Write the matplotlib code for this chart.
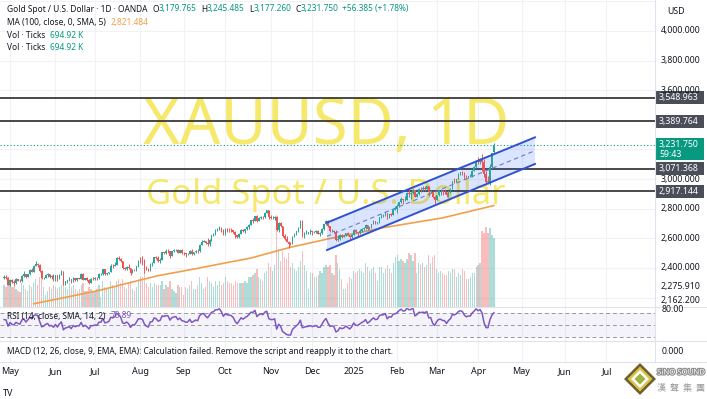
import numpy as np
import pandas as pd
import matplotlib
matplotlib.use("Agg")
import matplotlib.pyplot as plt
from matplotlib.patches import Polygon, Rectangle
from matplotlib.transforms import blended_transform_factory
import matplotlib.patheffects as pe

plt.rcParams['font.family'] = ['Noto Sans', 'DejaVu Sans']

# ---------------- data ----------------
rsi_warmup_closes = [2083, 2115, 2128, 2148, 2160, 2179, 2182, 2158, 2175, 2162, 2156, 2160, 2157,
                     2187, 2181, 2165, 2172, 2179, 2194, 2230, 2251, 2280, 2300, 2290, 2329, 2339,
                     2352, 2333, 2372, 2344, 2383, 2383, 2361, 2379, 2391, 2327, 2322, 2316, 2332]

closes = (
    [2337, 2335, 2286] +
    [2320, 2304, 2301, 2323, 2314, 2309, 2346, 2360, 2336, 2358, 2386, 2376, 2415, 2425, 2421,
     2379, 2329, 2334, 2351, 2361, 2338, 2343, 2327] +
    [2350, 2327, 2355, 2375, 2293, 2311, 2316, 2325, 2303, 2333, 2319, 2329, 2328, 2360, 2322,
     2334, 2319, 2298, 2327, 2326] +
    [2332, 2330, 2356, 2356, 2391, 2359, 2364, 2371, 2415, 2411, 2422, 2469, 2459, 2445, 2400,
     2396, 2409, 2397, 2364, 2387, 2384, 2410, 2447] +
    [2446, 2443, 2409, 2390, 2382, 2427, 2431, 2472, 2465, 2447, 2456, 2507, 2504, 2514, 2512,
     2484, 2512, 2518, 2524, 2504, 2520, 2503] +
    [2500, 2493, 2495, 2516, 2497, 2506, 2516, 2512, 2558, 2577, 2582, 2569, 2559, 2587, 2621,
     2628, 2657, 2657, 2672, 2658, 2634] +
    [2663, 2657, 2656, 2653, 2644, 2622, 2608, 2630, 2657, 2649, 2663, 2674, 2693, 2721, 2720,
     2748, 2714, 2736, 2747, 2742, 2774, 2788, 2743] +
    [2736, 2736, 2743, 2659, 2706, 2685, 2619, 2598, 2573, 2565, 2563, 2612, 2631, 2650, 2670,
     2715, 2625, 2633, 2639, 2641, 2650] +
    [2640, 2643, 2650, 2632, 2633, 2660, 2694, 2718, 2680, 2648, 2652, 2646, 2586, 2594, 2622,
     2612, 2617, 2634, 2621, 2606, 2624] +
    [2658, 2640, 2636, 2648, 2661, 2670, 2689, 2663, 2677, 2697, 2715, 2703, 2708, 2744, 2755,
     2755, 2771, 2740, 2763, 2760, 2794, 2798] +
    [2815, 2843, 2866, 2856, 2861, 2908, 2898, 2904, 2928, 2882, 2898, 2935, 2933, 2939, 2936,
     2952, 2915, 2916, 2876, 2858] +
    [2893, 2918, 2920, 2911, 2910, 2890, 2917, 2934, 2988, 2984, 3001, 3034, 3048, 3044, 3023,
     3011, 3020, 3020, 3057, 3084, 3124] +
    [3113, 3134, 3114, 3037, 2983, 2982, 3083, 3175.365, 3231.75]
)
highs = (
    [2352, 2353, 2336] +
    [2326, 2326, 2319, 2331, 2326, 2323, 2350, 2378, 2361, 2361, 2392, 2400, 2422, 2450, 2431,
     2428, 2385, 2341, 2358, 2365, 2362, 2351, 2360] +
    [2354, 2353, 2359, 2387, 2378, 2313, 2318, 2342, 2326, 2336, 2335, 2335, 2335, 2365, 2368,
     2335, 2336, 2325, 2330, 2340] +
    [2336, 2336, 2365, 2364, 2393, 2393, 2366, 2374, 2424, 2425, 2440, 2471, 2483, 2469, 2447,
     2409, 2412, 2430, 2403, 2390, 2394, 2412, 2451] +
    [2477, 2478, 2458, 2410, 2402, 2432, 2438, 2474, 2478, 2479, 2464, 2509, 2509, 2531, 2525,
     2515, 2514, 2528, 2527, 2526, 2523, 2525] +
    [2507, 2502, 2503, 2523, 2529, 2507, 2518, 2528, 2560, 2586, 2589, 2583, 2600, 2594, 2625,
     2634, 2664, 2670, 2686, 2674, 2665] +
    [2673, 2670, 2668, 2671, 2659, 2649, 2624, 2633, 2661, 2660, 2666, 2686, 2696, 2722, 2740,
     2749, 2758, 2741, 2749, 2749, 2775, 2790, 2790] +
    [2758, 2748, 2750, 2749, 2711, 2710, 2685, 2627, 2618, 2581, 2576, 2615, 2639, 2651, 2676,
     2721, 2721, 2642, 2656, 2646, 2666] +
    [2651, 2651, 2657, 2655, 2644, 2667, 2696, 2726, 2722, 2683, 2663, 2655, 2653, 2625, 2631,
     2630, 2621, 2638, 2640, 2623, 2628] +
    [2662, 2665, 2645, 2664, 2671, 2678, 2697, 2691, 2679, 2698, 2725, 2717, 2712, 2746, 2763,
     2761, 2786, 2773, 2765, 2771, 2799, 2817] +
    [2831, 2845, 2882, 2868, 2886, 2911, 2942, 2910, 2932, 2929, 2905, 2938, 2947, 2955, 2954,
     2956, 2956, 2928, 2920, 2884] +
    [2895, 2928, 2930, 2926, 2930, 2915, 2922, 2940, 2990, 3005, 3004, 3038, 3048, 3057, 3047,
     3025, 3024, 3033, 3060, 3087, 3128] +
    [3149, 3140, 3168, 3136, 3055, 3023, 3100, 3176, 3245.485]
)
lows = (
    [2326, 2327, 2285] +
    [2281, 2298, 2277, 2291, 2309, 2303, 2306, 2340, 2333, 2336, 2354, 2371, 2375, 2413, 2408,
     2375, 2325, 2325, 2330, 2340, 2332, 2326, 2315] +
    [2314, 2315, 2325, 2352, 2286, 2286, 2298, 2309, 2301, 2302, 2310, 2310, 2323, 2328, 2316,
     2318, 2314, 2293, 2299, 2319] +
    [2318, 2318, 2328, 2352, 2353, 2353, 2352, 2358, 2370, 2400, 2410, 2421, 2452, 2438, 2393,
     2384, 2384, 2394, 2353, 2363, 2380, 2379, 2409] +
    [2432, 2422, 2364, 2384, 2379, 2380, 2415, 2431, 2460, 2441, 2431, 2455, 2491, 2496, 2502,
     2470, 2483, 2506, 2512, 2498, 2503, 2495] +
    [2490, 2472, 2488, 2491, 2485, 2490, 2500, 2500, 2510, 2554, 2577, 2563, 2546, 2546, 2583,
     2615, 2625, 2650, 2655, 2643, 2625] +
    [2624, 2643, 2645, 2642, 2637, 2605, 2604, 2603, 2629, 2640, 2639, 2656, 2665, 2692, 2704,
     2717, 2708, 2715, 2728, 2730, 2740, 2768, 2730] +
    [2730, 2728, 2726, 2652, 2643, 2675, 2611, 2590, 2572, 2537, 2556, 2563, 2610, 2625, 2646,
     2669, 2606, 2605, 2627, 2631, 2632] +
    [2622, 2633, 2636, 2627, 2613, 2632, 2656, 2692, 2677, 2643, 2643, 2637, 2583, 2584, 2592,
     2603, 2610, 2616, 2616, 2597, 2600] +
    [2623, 2637, 2615, 2630, 2645, 2656, 2665, 2657, 2660, 2668, 2695, 2697, 2696, 2704, 2737,
     2742, 2753, 2730, 2738, 2750, 2755, 2790] +
    [2772, 2811, 2840, 2835, 2853, 2859, 2880, 2865, 2897, 2877, 2881, 2894, 2915, 2922, 2917,
     2930, 2889, 2907, 2874, 2833] +
    [2857, 2886, 2893, 2893, 2898, 2880, 2881, 2906, 2932, 2975, 2983, 2998, 3029, 3029, 2999,
     3002, 3008, 3013, 3017, 3055, 3077] +
    [3100, 3105, 3054, 3015, 2957, 2970, 2957, 3072, 3177.26]
)
last_open = 3179.765

volumes_k = (
    [220, 200, 300] +
    [240, 200, 200, 180, 160, 150, 240, 220, 180, 160, 220, 200, 240, 280, 220, 300, 320, 200,
     120, 160, 200, 180, 220] +
    [200, 180, 200, 220, 360, 200, 180, 240, 200, 220, 180, 160, 180, 220, 240, 160, 160, 200,
     180, 160] +
    [160, 180, 220, 100, 260, 200, 180, 180, 260, 220, 200, 260, 280, 240, 280, 200, 180, 240,
     260, 180, 160, 200, 280] +
    [300, 300, 360, 240, 200, 240, 200, 240, 220, 220, 220, 260, 180, 220, 200, 260, 180, 160,
     140, 220, 200, 200] +
    [120, 200, 180, 220, 260, 180, 180, 220, 300, 240, 180, 200, 300, 260, 240, 200, 260, 220,
     260, 220, 240] +
    [300, 260, 240, 240, 220, 260, 240, 240, 240, 240, 260, 240, 300, 300, 320, 340, 380, 300,
     280, 260, 340, 360, 440] +
    [400, 360, 420, 920, 580, 460, 560, 500, 480, 540, 400, 440, 380, 360, 400, 460, 560, 420,
     360, 180, 340] +
    [340, 300, 300, 320, 360, 340, 400, 420, 400, 420, 340, 320, 520, 440, 380, 280, 180, 180,
     240, 300, 280] +
    [360, 340, 360, 380, 360, 340, 440, 400, 360, 380, 400, 340, 260, 400, 400, 340, 380, 420,
     380, 340, 440, 500] +
    [520, 460, 480, 460, 440, 480, 540, 520, 460, 540, 340, 440, 420, 440, 400, 420, 520, 440,
     500, 520] +
    [380, 340, 360, 340, 320, 320, 360, 340, 380, 380, 300, 340, 320, 380, 360, 280, 280, 300,
     340, 340, 400] +
    [420, 440, 760, 740, 800, 740, 790, 720, 694.92]
)

ma_idx = [15, 32, 49, 61, 78, 95, 112, 125, 145, 164, 192, 222, 248]
ma_val = [2158, 2204, 2251, 2292, 2348, 2390, 2434, 2467, 2540, 2596, 2672, 2738, 2821.484]

level_prices = [3548.963, 3389.764, 3071.368, 2917.144]
last_price = 3231.75

channel_idx = [163.5, 268.8]
channel_upper = [2706, 3282]
channel_lower = [2521, 3102]

month_labels = ['May', 'Jun', 'Jul', 'Aug', 'Sep', 'Oct', 'Nov', 'Dec', '2025',
                'Feb', 'Mar', 'Apr', 'May', 'Jun', 'Jul']
price_ticks = [4000, 3800, 3600, 3000, 2800, 2600, 2400]
extra_price_labels = ['2,275.910', '2,162.200']
extra_price_pos = [2275.91, 2183.0]

# ---------------- layout ----------------
W, H = 707, 399
fig = plt.figure(figsize=(W / 100, H / 100), dpi=100)
fig.patch.set_facecolor('white')
renderer = fig.canvas.get_renderer()

def rect(x0, y0, x1, y1):
    return [x0 / W, 1 - y1 / H, (x1 - x0) / W, (y1 - y0) / H]

PANE_R, MAIN_B, RSI_B, MACD_B = 655, 307, 341, 362
BAR0_PX, BAR_PX = 4.1, 1.975
XL = (0 - BAR0_PX) / BAR_PX
XR = (PANE_R - BAR0_PX) / BAR_PX
Y_BOT, Y_TOP = 2136.4, 4209.3
VOL_TOP = 3070

DARK = '#131722'
TEAL = '#089981'
UP, DOWN = '#26A69A', '#EF5350'
GRID = '#F0F2F6'
SEP = '#E0E3EB'

axv = fig.add_axes(rect(0, 0, PANE_R, MAIN_B))
ax = fig.add_axes(rect(0, 0, PANE_R, MAIN_B))
axr = fig.add_axes(rect(0, MAIN_B, PANE_R, RSI_B))
axm = fig.add_axes(rect(0, RSI_B, PANE_R, MACD_B))
for a in (axv, ax, axr, axm):
    a.set_axis_off()
    a.set_xlim(XL, XR)
axv.set_ylim(0, VOL_TOP)
ax.set_ylim(Y_BOT, Y_TOP)
axr.set_ylim(23.8, 80.5)
axv.set_zorder(0)
ax.set_zorder(1)

# dates / month ticks
all_days = pd.bdate_range('2024-04-26', '2025-08-29')
all_days = all_days[~all_days.isin(pd.to_datetime(['2024-12-25', '2025-01-01']))]
per = all_days.to_period('M')
month_starts = [i for i in range(1, len(all_days)) if per[i] != per[i - 1]]
ticks = list(zip(month_starts, month_labels))

# grid
gtrans = blended_transform_factory(axv.transAxes, ax.transData)
for p in range(2200, 4201, 200):
    axv.plot([0, 1], [p, p], transform=gtrans, color=GRID, lw=0.8, zorder=0)
for i, _ in ticks:
    for a in (axv, axr, axm):
        a.axvline(i, color=GRID, lw=0.8, zorder=0)

# watermark
wm1 = axv.text(326 / PANE_R, 1 - 144 / MAIN_B, 'XAUUSD, 1D', transform=axv.transAxes,
               ha='center', va='baseline', color='#F6E86A', fontsize=46, zorder=1)
wm2 = axv.text(326 / PANE_R, 1 - 204 / MAIN_B, 'Gold Spot / U.S. Dollar', transform=axv.transAxes,
               ha='center', va='baseline', color='#F6E86A', fontsize=24, zorder=1)
for t, target in ((wm1, 367), (wm2, 360)):
    w = t.get_window_extent(renderer).width
    t.set_fontsize(t.get_fontsize() * target / w)

# candles
N = len(closes)
idx = np.arange(N)
c = np.array(closes, float)
o = np.r_[rsi_warmup_closes[-1], c[:-1]]
o[-1] = last_open
hi = np.maximum(np.array(highs, float), np.maximum(o, c))
lo = np.minimum(np.array(lows, float), np.minimum(o, c))
up = c >= o
cols = np.where(up, UP, DOWN)

vol = np.array(volumes_k, float)
axv.bar(idx, vol, width=0.62, color=[UP if u else DOWN for u in up], alpha=0.38,
        linewidth=0, zorder=2)

# MA
ax.plot(ma_idx, ma_val, color='#F0A04B', lw=1.2, zorder=3)

# horizontal levels & last price line
for p in level_prices:
    ax.axhline(p, color='#3A3A3A', lw=1.3, zorder=4)
ax.axhline(last_price, color=TEAL, lw=0.8, ls=(0, (1, 2)), zorder=4)

# channel
cu = np.array(channel_upper, float)
cl = np.array(channel_lower, float)
ax.add_patch(Polygon(list(zip(channel_idx, cu)) + list(zip(channel_idx[::-1], cl[::-1])),
                     closed=True, facecolor='#2962FF', alpha=0.16, edgecolor='none', zorder=5))
ax.plot(channel_idx, cu, color='#2F52D0', lw=1.4, zorder=7)
ax.plot(channel_idx, cl, color='#2F52D0', lw=1.4, zorder=7)
ax.plot(channel_idx, (cu + cl) / 2, color='#6C7BC4', lw=0.8, ls=(0, (4, 3)), zorder=7)

ax.vlines(idx, lo, hi, colors=cols, lw=0.7, zorder=6)
ax.bar(idx, np.maximum(np.abs(c - o), 2.5), bottom=np.minimum(o, c), width=0.72,
       color=cols, linewidth=0, zorder=6)

# RSI
src = np.r_[rsi_warmup_closes, c]
d = np.diff(src)
g = np.where(d > 0, d, 0.0)
l = np.where(d < 0, -d, 0.0)
n = 14
ag = np.full(len(d), np.nan)
al = np.full(len(d), np.nan)
ag[n - 1] = g[:n].mean()
al[n - 1] = l[:n].mean()
for i in range(n, len(d)):
    ag[i] = (ag[i - 1] * (n - 1) + g[i]) / n
    al[i] = (al[i - 1] * (n - 1) + l[i]) / n
rsi = (100 - 100 / (1 + ag / al))[-N:]
axr.axhspan(30, 70, color='#7E57C2', alpha=0.07, lw=0)
for lv in (70, 50, 30):
    axr.axhline(lv, color='#9598A1', lw=0.7, ls=(0, (4, 3)))
axr.plot(idx, rsi, color='#7E57C2', lw=1.1, zorder=3)

# ---------------- text helpers ----------------
def put(x, y, s, color=DARK, size=6.0, ha='left', **kw):
    return fig.text(x / W, 1 - y / H, s, color=color, fontsize=size, va='center', ha=ha, **kw)

def seq(x, y, parts, size=6.0):
    for item in parts:
        if isinstance(item, (int, float)):
            x += item
            continue
        s, col = item
        t = put(x, y, s, col, size)
        x += t.get_window_extent(renderer).width
    return x

FS = 6.0
seq(7, 9, [('Gold Spot / U.S. Dollar · 1D · OANDA', DARK), 5, ('O', DARK), ('3,179.765', TEAL), 4,
           ('H', DARK), ('3,245.485', TEAL), 4, ('L', DARK), ('3,177.260', TEAL), 4,
           ('C', DARK), ('3,231.750', TEAL), 4, ('+56.385 (+1.78%)', TEAL)], FS)
seq(7, 23, [('MA (100, close, 0, SMA, 5)', DARK), 5, ('2,821.484', '#F0A04B')], FS)
seq(7, 35, [('Vol · Ticks', DARK), 5, ('694.92 K', TEAL)], FS)
seq(7, 48, [('Vol · Ticks', DARK), 5, ('694.92 K', TEAL)], FS)

seq(7, 316, [('RSI (14, close, SMA, 14, 2)', DARK), 5, ('70.89', '#7E57C2')], FS)
put(7, 351, 'MACD (12, 26, close, 9, EMA, EMA): Calculation failed. Remove the script and reapply it to the chart.',
    DARK, FS)

# separators
for y in (MAIN_B, RSI_B, MACD_B):
    fig.add_artist(plt.Line2D([0, 1], [1 - y / H, 1 - y / H], color=SEP, lw=0.8))
fig.add_artist(plt.Line2D([PANE_R / W, PANE_R / W], [1 - MACD_B / H, 1], color=SEP, lw=0.8))

# price scale
ytr = blended_transform_factory(fig.transFigure, ax.transData)
PFS = 6.3
put(667, 12, 'USD', DARK, PFS)
for p in price_ticks:
    fig.text(661 / W, p, f'{p:,.3f}', transform=ytr, color=DARK, fontsize=PFS, va='center')
for s, p in zip(extra_price_labels, extra_price_pos):
    fig.text(661 / W, p, s, transform=ytr, color=DARK, fontsize=PFS, va='center')

def ypix(p):
    return ax.transData.transform((0, p))[1]

for p in level_prices:
    yc = ypix(p)
    fig.add_artist(Rectangle((656 / W, (yc - 6.5) / H), 48 / W, 13 / H,
                             facecolor='#4A4E59', edgecolor='none'))
    fig.text(659 / W, yc / H, f'{p:,.3f}', color='white', fontsize=PFS, va='center')
yc = ypix(last_price)
fig.add_artist(Rectangle((656 / W, (yc - 15.5) / H), 48 / W, 22 / H,
                         facecolor=TEAL, edgecolor='none'))
fig.text(659 / W, (yc + 0.5) / H, f'{last_price:,.3f}', color='white', fontsize=PFS, va='center')
fig.text(659 / W, (yc - 9.5) / H, '59:43', color='white', fontsize=PFS, va='center')

put(662, 310, '80.00', DARK, PFS)
put(662, 351, '0.000', DARK, PFS)

# time axis
for i, lab in ticks:
    xp = BAR0_PX + i * BAR_PX
    put(xp, 372, lab, DARK, 6.5, ha='center', fontweight='bold' if lab == '2025' else 'normal')

# bottom-left logo
put(3, 394, 'TV', DARK, 6.5, fontweight='bold')

# SiNO SOUND logo
cx, cy = 640, 379
for r, col in ((16, '#6E5E2A'), (12.5, '#D9C24A'), (9, '#FFFFFF'), (5.5, '#9FB23A')):
    pts = [((cx) / W, 1 - (cy - r) / H), ((cx + r) / W, 1 - cy / H),
           (cx / W, 1 - (cy + r) / H), ((cx - r) / W, 1 - cy / H)]
    fig.add_artist(Polygon(pts, closed=True, facecolor=col, edgecolor='none'))
t = put(681, 373, 'SiNO SOUND', 'white', 5.6, ha='center', fontweight='bold')
t.set_path_effects([pe.withStroke(linewidth=1.6, foreground='#8E8E8E')])
put(681, 388, '漢  聲  集  團', '#9A9A9A', 6.5, ha='center',
    family=['Noto Sans CJK TC', 'DejaVu Sans'])

fig.savefig('out.png', dpi=100)
